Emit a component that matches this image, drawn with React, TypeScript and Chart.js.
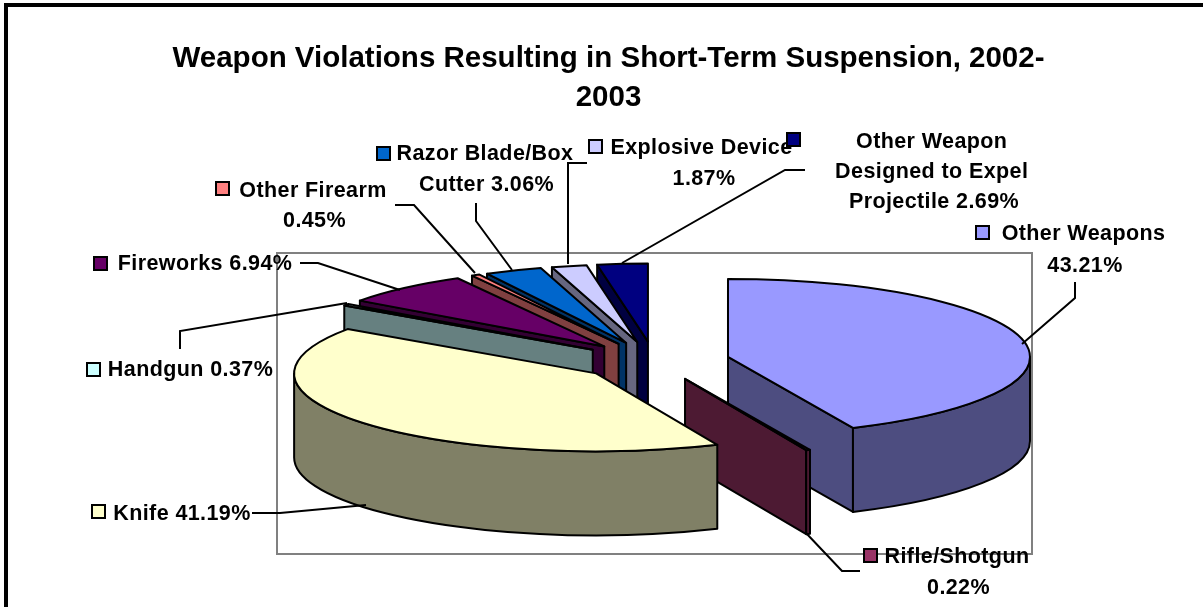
import React, { useEffect, useRef } from "react";
import { Chart, registerables } from "chart.js";

Chart.register(...registerables);

const FONT = '"Liberation Sans", Arial, sans-serif';

const categories = [
  "Other Weapons", "Rifle/Shotgun", "Knife", "Handgun", "Fireworks",
  "Other Firearm", "Razor Blade/Box Cutter", "Explosive Device",
  "Other Weapon Designed to Expel Projectile",
];
const values = [43.21, 0.22, 41.19, 0.37, 6.94, 0.45, 3.06, 1.87, 2.69];
const topColors = ["#9999FF", "#993366", "#FFFFCC", "#CCFFFF", "#660066", "#FF8080", "#0066CC", "#CCCCFF", "#000080"];
const sideColors = ["#4D4D80", "#4D1A33", "#808066", "#668080", "#330033", "#804040", "#003366", "#666680", "#000040"];
const titleLines = ["Weapon Violations Resulting in Short-Term Suspension, 2002-", "2003"];
const labelLines = [
  ["Other Weapons", "43.21%"],
  ["Rifle/Shotgun", "0.22%"],
  ["Knife 41.19%"],
  ["Handgun 0.37%"],
  ["Fireworks 6.94%"],
  ["Other Firearm", "0.45%"],
  ["Razor Blade/Box", "Cutter 3.06%"],
  ["Explosive Device", "1.87%"],
  ["Other Weapon", "Designed to Expel", "Projectile 2.69%"],
];

// Layout: back-to-front paint order, pie projection, label placement.
const paintOrder = [8, 7, 6, 5, 4, 3, 0, 1, 2];
const pie = { cx: 654.3, cy: 361, rx: 302, ry: 78, depth: 84, explode: 75.4 / 302 };
const plotRect = { x: 277, y: 253, w: 755, h: 301 };
const labelCenters = [
  [[1083.5, 233], [1085, 265]],
  [[957, 556], [958.5, 587]],
  [[182, 513]],
  [[190.5, 369]],
  [[205, 263]],
  [[313, 190], [314.5, 220]],
  [[485, 153], [486.5, 184]],
  [[701.5, 147], [704, 178]],
  [[931.7, 141], [931.7, 171], [934, 201]],
];
const keyBoxes = [[976, 226], [864, 549], [92, 505], [87, 363], [94, 257], [216, 182], [377, 147], [589, 140], [787, 133]];
const leaders = [
  [[1075, 282], [1075, 298], [1022, 344]],
  [[806, 533], [842, 571], [860, 571]],
  [[252, 513], [280, 513], [366, 505]],
  [[180, 349], [180, 331], [347, 303]],
  [[300, 263], [318, 263], [400, 290]],
  [[395, 205], [414, 205], [475, 273]],
  [[476, 203], [476, 221], [512, 270]],
  [[587, 163], [568, 163], [568, 264]],
  [[805, 170], [785, 170], [622, 263]],
];

const pie3d = {
  id: "pie3d",
  beforeDraw(chart: any) {
    const { ctx } = chart;
    ctx.save();
    ctx.fillStyle = "#fff";
    ctx.fillRect(0, 0, 1203, 607);
    ctx.fillStyle = "#000";
    ctx.fillRect(4, 3, 1199, 4);
    ctx.fillRect(4, 3, 4, 604);
    ctx.restore();
  },
  beforeDatasetsDraw(chart: any) {
    const { ctx } = chart;
    const arcs = chart.getDatasetMeta(0).data;
    ctx.save();
    ctx.strokeStyle = "#808080";
    ctx.lineWidth = 2;
    ctx.strokeRect(plotRect.x, plotRect.y, plotRect.w, plotRect.h);
    ctx.restore();

    for (const i of paintOrder) {
      const el = arcs[i];
      const a0 = el.startAngle;
      const a1 = el.endAngle;
      const mid = (a0 + a1) / 2;
      const ax = pie.cx + Math.cos(mid) * pie.explode * pie.rx;
      const ay = pie.cy + Math.sin(mid) * pie.explode * pie.ry;
      const rimX = (a: number) => ax + Math.cos(a) * pie.rx;
      const rimY = (a: number) => ay + Math.sin(a) * pie.ry;
      const d = pie.depth;

      ctx.save();
      ctx.lineJoin = "round";
      ctx.lineWidth = 2;
      ctx.strokeStyle = "#000";
      ctx.fillStyle = sideColors[i];

      const face = (a: number) => {
        ctx.beginPath();
        ctx.moveTo(ax, ay);
        ctx.lineTo(rimX(a), rimY(a));
        ctx.lineTo(rimX(a), rimY(a) + d);
        ctx.lineTo(ax, ay + d);
        ctx.closePath();
        ctx.fill();
        ctx.stroke();
      };
      if (Math.cos(a0) < -1e-6) face(a0);
      if (Math.cos(a1) > 1e-6) face(a1);

      // outer wall: parts of the rim facing the viewer
      for (const [lo, hi] of [[0, Math.PI], [2 * Math.PI, 3 * Math.PI]]) {
        const s = Math.max(a0, lo);
        const e = Math.min(a1, hi);
        if (e <= s) continue;
        ctx.beginPath();
        ctx.ellipse(ax, ay, pie.rx, pie.ry, 0, s, e);
        ctx.lineTo(rimX(e), rimY(e) + d);
        ctx.ellipse(ax, ay + d, pie.rx, pie.ry, 0, e, s, true);
        ctx.closePath();
        ctx.fill();
        ctx.stroke();
      }

      // top surface: the library's own arc element under a projection
      ctx.save();
      ctx.translate(ax, ay);
      ctx.scale(pie.rx / el.outerRadius, pie.ry / el.outerRadius);
      ctx.translate(-el.x, -el.y);
      el.draw(ctx);
      ctx.restore();

      ctx.beginPath();
      ctx.moveTo(ax, ay);
      ctx.ellipse(ax, ay, pie.rx, pie.ry, 0, a0, a1);
      ctx.closePath();
      ctx.stroke();
      ctx.restore();
    }
    return false;
  },
  afterDraw(chart: any) {
    const { ctx } = chart;
    ctx.save();
    ctx.strokeStyle = "#000";
    ctx.lineWidth = 2;
    for (const pts of leaders) {
      ctx.beginPath();
      pts.forEach(([x, y], k) => (k ? ctx.lineTo(x, y) : ctx.moveTo(x, y)));
      ctx.stroke();
    }
    ctx.font = `bold 21.5px ${FONT}`;
    (ctx as any).letterSpacing = "0.4px";
    ctx.textAlign = "center";
    ctx.textBaseline = "middle";
    ctx.fillStyle = "#000";
    labelLines.forEach((lines, i) => {
      lines.forEach((t, j) => {
        const [x, y] = labelCenters[i][j];
        ctx.fillText(t, x, y + 1);
      });
      const [kx, ky] = keyBoxes[i];
      ctx.fillStyle = "#fff";
      ctx.fillRect(kx, ky, 13, 13);
      ctx.fillStyle = topColors[i];
      ctx.fillRect(kx + 1, ky + 1, 11, 11);
      ctx.strokeStyle = "#000";
      ctx.strokeRect(kx, ky, 13, 13);
      ctx.fillStyle = "#000";
    });
    ctx.restore();
  },
};

export default function App() {
  const ref = useRef<HTMLCanvasElement>(null);
  useEffect(() => {
    document.body.style.margin = "0";
    const chart = new Chart(ref.current as HTMLCanvasElement, {
      type: "pie",
      data: {
        labels: categories,
        datasets: [{ data: values, backgroundColor: topColors, borderWidth: 0, offset: 0 }],
      },
      options: {
        responsive: false,
        animation: false,
        devicePixelRatio: 1,
        layout: { padding: { left: 14 } },
        plugins: {
          legend: { display: false },
          tooltip: { enabled: false },
          title: {
            display: true,
            text: titleLines,
            color: "#000",
            font: { family: FONT, size: 29.5, weight: "bold", lineHeight: 1.322 },
            padding: { top: 39, bottom: 0 },
          },
        },
      },
      plugins: [pie3d],
    } as any);
    return () => chart.destroy();
  }, []);
  return <canvas ref={ref} width={1203} height={607} style={{ display: "block" }} />;
}
